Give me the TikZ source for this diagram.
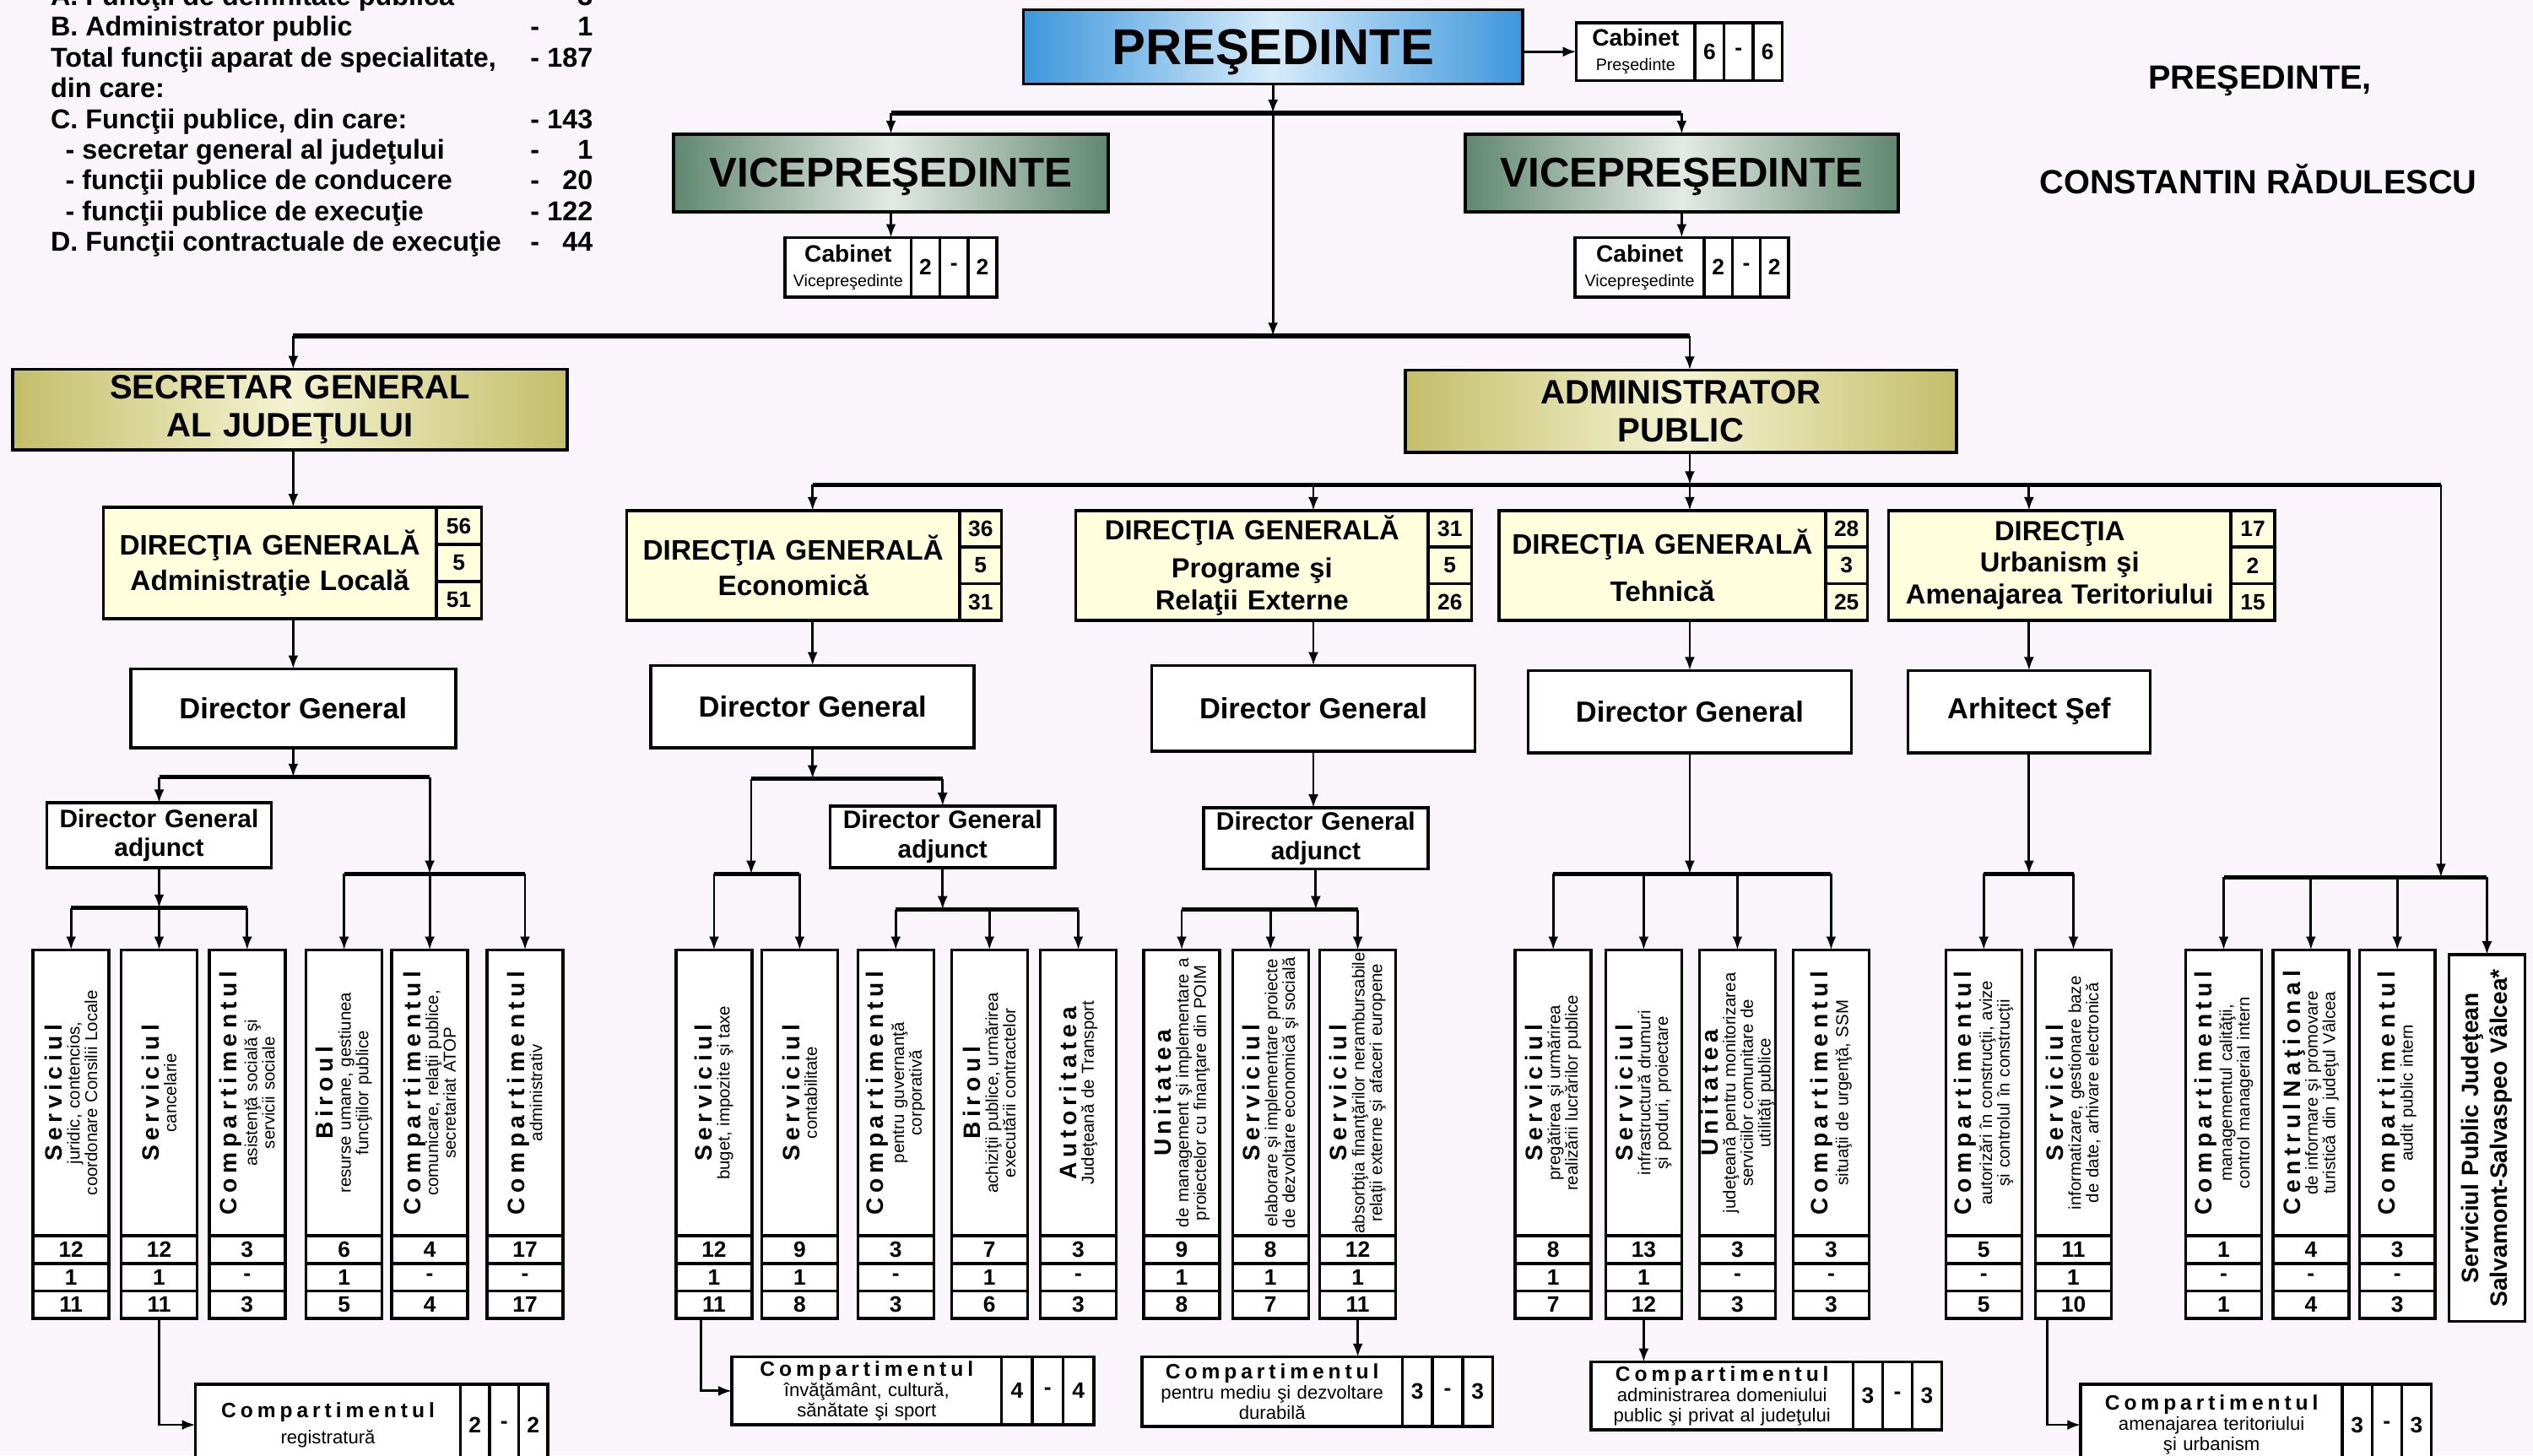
\documentclass[tikz,border=0pt]{standalone}
\usepackage{fontspec}
\usepackage{array}
\setmainfont{Liberation Sans}
\newfontfamily\spaced{Liberation Sans}[LetterSpace=20]
\usetikzlibrary{positioning,arrows.meta}
\def\upx{0.5446pt}
\definecolor{bgc}{RGB}{250,245,250}
\definecolor{pb}{RGB}{60,150,220}
\definecolor{pbl}{RGB}{215,235,250}
\definecolor{vg}{RGB}{95,135,112}
\definecolor{vgl}{RGB}{228,234,230}
\definecolor{kh}{RGB}{195,190,105}
\definecolor{khl}{RGB}{245,243,210}
\definecolor{dgy}{RGB}{255,255,222}
\newcommand\coltitle{\spaced\bfseries\fontsize{8}{8}\selectfont}
\newcommand\colsub{\normalfont\fontsize{5.8}{5.9}\selectfont}
\newcommand\boxtitle{\spaced\bfseries\fontsize{7}{8}\selectfont}
\begin{document}
\begin{tikzpicture}
[x=0.019139cm,y=-0.019139cm,
 bx/.style={draw,line width=1pt,inner sep=0pt,outer sep=0pt,fill=white},
 cel/.style={bx,font=\bfseries\fontsize{7.5}{7.5}\selectfont},
 ar/.style={-{Latex[length=4.5pt,width=3.4pt]},line width=0.8pt},
 bar/.style={line width=1.5pt},
 dir/.style={bx,fill=dgy,text width=110pt,align=center},
 dg/.style={bx,font=\bfseries\fontsize{9.8}{9.8}\selectfont},
 adj/.style={bx,text width=72pt,align=center,font=\bfseries\fontsize{8.5}{9.8}\selectfont},
 cab/.style={bx,text width=40pt,align=center,font=\fontsize{5.6}{8.2}\selectfont},
 sb/.style={bx,text width=85pt,align=center,font=\fontsize{6.3}{6.8}\selectfont}]
\path [use as bounding box] (0,0) rectangle (1568,901);
\fill [bgc] (0,0) rectangle (1568,901);

% header texts
\node [anchor=north west,inner sep=0pt,font=\bfseries\fontsize{9.2}{10.35}\selectfont] at (31,-10.3) (lst)
{\begin{tabular}{@{}p{161.7pt}@{}p{4pt}@{}>{\raggedleft\arraybackslash}p{17pt}@{}}
A. Funcţii de demnitate publică & - & 3\\
B. Administrator public & - & 1\\
Total funcţii aparat de specialitate, & - & 187\\
din care: & & \\
C. Funcţii publice, din care: & - & 143\\
\hspace*{5pt}- secretar general al judeţului & - & 1\\
\hspace*{5pt}- funcţii publice de conducere & - & 20\\
\hspace*{5pt}- funcţii publice de execuţie & - & 122\\
D. Funcţii contractuale de execuţie & - & 44
\end{tabular}};
\node [font=\bfseries\fontsize{11.3}{11.3}\selectfont] at (1399,50) (sgn) {PREŞEDINTE,};
\node [font=\bfseries\fontsize{11.3}{11.3}\selectfont] at (1398,111) (nme) {CONSTANTIN RĂDULESCU};

% conducere
\node [bx,left color=pb,right color=pb,middle color=pbl,minimum width=309*\upx,minimum height=46*\upx,text depth=0pt,font=\bfseries\fontsize{17}{17}\selectfont] at (788,29) (pres) {PREŞEDINTE};
\node [cab,minimum width=73*\upx,minimum height=36*\upx] at (1012.5,32) (cbp) {{\bfseries\fontsize{8}{8}\selectfont Cabinet}\\Preşedinte};
\foreach \ci/\cv in {1/6,2/-,3/6}
  \node [cel,minimum width=18*\upx,minimum height=36*\upx,anchor=north west] at ([xshift=(\ci-1)*18*\upx]cbp.north east) (cbp-\ci) {\cv};
\node [bx,left color=vg,right color=vg,middle color=vgl,minimum width=269*\upx,minimum height=48*\upx,text depth=0pt,font=\bfseries\fontsize{14}{14}\selectfont] at (551.5,107) (vp1) {VICEPREŞEDINTE};
\node [bx,left color=vg,right color=vg,middle color=vgl,minimum width=268*\upx,minimum height=48*\upx,text depth=0pt,font=\bfseries\fontsize{14}{14}\selectfont] at (1041,107) (vp2) {VICEPREŞEDINTE};
\node [cab,minimum width=78*\upx,minimum height=37*\upx] at (525,165.5) (cv1) {{\bfseries\fontsize{8}{8}\selectfont Cabinet}\\Vicepreşedinte};
\foreach \ci/\cv in {1/2,2/-,3/2}
  \node [cel,minimum width=17.67*\upx,minimum height=37*\upx,anchor=north west] at ([xshift=(\ci-1)*17.67*\upx]cv1.north east) (cv1-\ci) {\cv};
\node [cab,minimum width=80*\upx,minimum height=37*\upx] at (1015,165.5) (cv2) {{\bfseries\fontsize{8}{8}\selectfont Cabinet}\\Vicepreşedinte};
\foreach \ci/\cv in {1/2,2/-,3/2}
  \node [cel,minimum width=17.33*\upx,minimum height=37*\upx,anchor=north west] at ([xshift=(\ci-1)*17.33*\upx]cv2.north east) (cv2-\ci) {\cv};
\node [bx,left color=kh,right color=kh,middle color=khl,minimum width=343*\upx,minimum height=50*\upx,text width=180pt,align=center,font=\bfseries\fontsize{11.4}{13}\selectfont] at (179.5,253.5) (sg) {SECRETAR GENERAL\\AL JUDEŢULUI};
\node [bx,left color=kh,right color=kh,middle color=khl,minimum width=341*\upx,minimum height=51*\upx,text width=180pt,align=center,font=\bfseries\fontsize{11.4}{13}\selectfont] at (1040.5,254.5) (ap) {ADMINISTRATOR\\PUBLIC};

% directii
\node [dir,minimum width=206*\upx,minimum height=69*\upx,font=\bfseries\fontsize{9.5}{12}\selectfont] at (167,348.5) (dgal) {DIRECŢIA GENERALĂ\\Administraţie Locală};
\foreach \ci/\cv in {1/56,2/5,3/51}
  \node [cel,fill=dgy,minimum width=28*\upx,minimum height=23*\upx,anchor=north west] at ([yshift=-(\ci-1)*23*\upx]dgal.north east) (dgal-\ci) {\cv};
\node [dir,minimum width=206*\upx,minimum height=68*\upx,font=\bfseries\fontsize{9.5}{12}\selectfont] at (491,350) (dgec) {DIRECŢIA GENERALĂ\\Economică};
\foreach \ci/\cv in {1/36,2/5,3/31}
  \node [cel,fill=dgy,minimum width=26*\upx,minimum height=22.67*\upx,anchor=north west] at ([yshift=-(\ci-1)*22.67*\upx]dgec.north east) (dgec-\ci) {\cv};
\node [dir,minimum width=218*\upx,minimum height=68*\upx,font=\bfseries\fontsize{9.3}{10.9}\selectfont] at (775,350) (dgpr) {DIRECŢIA GENERALĂ\\[2pt]Programe şi\\Relaţii Externe};
\foreach \ci/\cv in {1/31,2/5,3/26}
  \node [cel,fill=dgy,minimum width=27*\upx,minimum height=22.67*\upx,anchor=north west] at ([yshift=-(\ci-1)*22.67*\upx]dgpr.north east) (dgpr-\ci) {\cv};
\node [dir,minimum width=202*\upx,minimum height=68*\upx,font=\bfseries\fontsize{9.5}{12}\selectfont] at (1029,350) (dgte) {DIRECŢIA GENERALĂ\\[3.8pt]Tehnică};
\foreach \ci/\cv in {1/28,2/3,3/25}
  \node [cel,fill=dgy,minimum width=26*\upx,minimum height=22.67*\upx,anchor=north west] at ([yshift=-(\ci-1)*22.67*\upx]dgte.north east) (dgte-\ci) {\cv};
\node [dir,minimum width=212*\upx,minimum height=68*\upx,font=\bfseries\fontsize{9.3}{10.6}\selectfont] at (1275,350) (dgur) {DIRECŢIA\\Urbanism şi\\Amenajarea Teritoriului};
\foreach \ci/\cv in {1/17,2/2,3/15}
  \node [cel,fill=dgy,minimum width=27*\upx,minimum height=22.67*\upx,anchor=north west] at ([yshift=-(\ci-1)*22.67*\upx]dgur.north east) (dgur-\ci) {\cv};

\node [dg,minimum width=201*\upx,minimum height=49*\upx] at (181.5,438.5) (dirgal) {Director General};
\node [dg,minimum width=200*\upx,minimum height=51*\upx] at (503,437.5) (dirgec) {Director General};
\node [dg,minimum width=200*\upx,minimum height=53*\upx] at (813,438.5) (dirgpr) {Director General};
\node [dg,minimum width=200*\upx,minimum height=51*\upx] at (1046,440.5) (dirgte) {Director General};
\node [dg,minimum width=150*\upx,minimum height=51*\upx] at (1256,440.5) (arh) {Arhitect Şef};
\node [adj,minimum width=139*\upx,minimum height=40*\upx] at (98.5,517) (dga1) {Director General\\adjunct};
\node [adj,minimum width=139*\upx,minimum height=38*\upx] at (583.5,518) (dga2) {Director General\\adjunct};
\node [adj,minimum width=139*\upx,minimum height=38*\upx] at (814.5,519) (dga3) {Director General\\adjunct};

% compartimente
\foreach \nm/\xc/\ttx/\stx/\ka/\kb/\kc in {
 a1/44/Serviciul/{juridic, contencios,\\coordonare Consilii Locale}/12/1/11,
 a2/98.5/Serviciul/{cancelarie}/12/1/11,
 a3/153/Compartimentul/{asistenţă socială şi\\servicii sociale}/3/-/3,
 a4/213/Biroul/{resurse umane, gestiunea\\funcţiilor publice}/6/1/5,
 a5/266/Compartimentul/{comunicare, relaţii publice,\\secretariat ATOP}/4/-/4,
 a6/325/Compartimentul/{administrativ}/17/-/17,
 e1/442/Serviciul/{buget, impozite şi taxe}/12/1/11,
 e2/495/Serviciul/{contabilitate}/9/1/8,
 e3/554.5/Compartimentul/{pentru guvernanţă\\corporativă}/3/-/3,
 e4/612.5/Biroul/{achiziţii publice, urmărirea\\executării contractelor}/7/1/6,
 e5/667.5/Autoritatea/{Judeţeană de Transport}/3/-/3,
 p1/731.5/Unitatea/{de management şi implementare a\\proiectelor cu finanţare din POIM}/9/1/8,
 p2/786.5/Serviciul/{elaborare şi implementare proiecte\\de dezvoltare economică şi socială}/8/1/7,
 p3/840.5/Serviciul/{absorbţia finanţărilor nerambursabile\\relaţii externe şi afaceri europene}/12/1/11,
 t1/961.5/Serviciul/{pregătirea şi urmărirea\\realizării lucrărilor publice}/8/1/7,
 t2/1017.5/Serviciul/{infrastructură drumuri\\şi poduri, proiectare}/13/1/12,
 t3/1075.5/Unitatea/{judeţeană pentru monitorizarea\\serviciilor comunitare de\\utilităţi publice}/3/-/3,
 t4/1133.5/Compartimentul/{situaţii de urgenţă, SSM}/3/-/3,
 u1/1228/Compartimentul/{autorizări în construcţii, avize\\şi controlul în construcţii}/5/-/5,
 u2/1283.5/Serviciul/{informatizare, gestionare baze\\de date, arhivare electronică}/11/1/10,
 r1/1376.5/Compartimentul/{managementul calităţii,\\control managerial intern}/1/-/1,
 r2/1430.5/Centrul Naţional/{de informare şi promovare\\turistică din judeţul Vâlcea}/4/-/4,
 r3/1484/Compartimentul/{audit public intern}/3/-/3}
{
 \node [bx,minimum width=47*\upx,minimum height=177*\upx] at (\xc,676.5) (c\nm) {};
 \node [rotate=90,text width=100pt,align=center,font=\colsub] at (c\nm) (c\nm-t) {{\coltitle \ttx}\\\stx};
 \node [cel,minimum width=47*\upx,minimum height=17*\upx,below=0pt of c\nm] (c\nm-1) {\ka};
 \node [cel,minimum width=47*\upx,minimum height=17*\upx,below=0pt of c\nm-1] (c\nm-2) {\kb};
 \node [cel,minimum width=47*\upx,minimum height=17*\upx,below=0pt of c\nm-2] (c\nm-3) {\kc};
}
\node [bx,minimum width=47*\upx,minimum height=227*\upx] at (1539.5,704.5) (cr4) {};
\node [rotate=90,text width=125pt,align=center,font=\bfseries\fontsize{8}{9.8}\selectfont] at (cr4) (cr4-t) {Serviciul Public Judeţean\\Salvamont-Salvaspeo Vâlcea*};

\node [sb,minimum width=164*\upx,minimum height=50*\upx] at (203,882) (reg) {{\boxtitle Compartimentul}\\[2pt]registratură};
\foreach \ci/\cv in {1/2,2/-,3/2}
  \node [cel,minimum width=18*\upx,minimum height=50*\upx,anchor=north west] at ([xshift=(\ci-1)*18*\upx]reg.north east) (reg-\ci) {\cv};
\node [sb,minimum width=167*\upx,minimum height=42*\upx] at (536.5,861) (inv) {{\boxtitle Compartimentul}\\învăţământ, cultură,\\sănătate şi sport};
\foreach \ci/\cv in {1/4,2/-,3/4}
  \node [cel,minimum width=19*\upx,minimum height=42*\upx,anchor=north west] at ([xshift=(\ci-1)*19*\upx]inv.north east) (inv-\ci) {\cv};
\node [sb,minimum width=161*\upx,minimum height=43*\upx] at (787.5,861.5) (med) {{\boxtitle Compartimentul}\\pentru mediu şi dezvoltare\\durabilă};
\foreach \ci/\cv in {1/3,2/-,3/3}
  \node [cel,minimum width=18.67*\upx,minimum height=43*\upx,anchor=north west] at ([xshift=(\ci-1)*18.67*\upx]med.north east) (med-\ci) {\cv};
\node [sb,minimum width=162*\upx,minimum height=42*\upx] at (1066,864) (dom) {{\boxtitle Compartimentul}\\administrarea domeniului\\public şi privat al judeţului};
\foreach \ci/\cv in {1/3,2/-,3/3}
  \node [cel,minimum width=18.33*\upx,minimum height=42*\upx,anchor=north west] at ([xshift=(\ci-1)*18.33*\upx]dom.north east) (dom-\ci) {\cv};
\node [sb,minimum width=162*\upx,minimum height=50*\upx] at (1369,882) (ame) {{\boxtitle Compartimentul}\\amenajarea teritoriului\\şi urbanism};
\foreach \ci/\cv in {1/3,2/-,3/3}
  \node [cel,minimum width=18.33*\upx,minimum height=50*\upx,anchor=north west] at ([xshift=(\ci-1)*18.33*\upx]ame.north east) (ame-\ci) {\cv};

% legaturi sus
\coordinate (vb) at (788,70);
\coordinate (hb) at (788,208);
\coordinate (ab) at (1046,300);
\coordinate (rb) at (1511,543);
\draw [ar] (pres.east |- cbp) -- (cbp.west);
\draw [ar] (pres) -- (vb);
\draw [ar] (vb) -- (hb);
\draw [bar] (vp1 |- vb) -- (vp2 |- vb);
\draw [ar] (vp1 |- vb) -- (vp1);
\draw [ar] (vp2 |- vb) -- (vp2);
\draw [ar] (vp1) -- (vp1 |- cv1.north);
\draw [ar] (vp2) -- (vp2 |- cv2.north);
\draw [bar] (dirgal |- hb) -- (dirgte |- hb);
\draw [ar] (dirgal |- hb) -- (dirgal |- sg.north);
\draw [ar] (dirgte |- hb) -- (dirgte |- ap.north);
\draw [ar] (dirgal |- sg.south) -- (dirgal |- dgal.north);
\draw [ar] (dirgal |- dgal.south) -- (dirgal);
\draw [ar] (dirgte |- ap.south) -- (dirgte |- ab);
\draw [bar] (dirgec |- ab) -- (rb |- ab);
\foreach \dn/\gn in {dirgec/dgec,dirgpr/dgpr,dirgte/dgte,arh/dgur}
{
 \draw [ar] (\dn |- ab) -- (\dn |- \gn.north);
 \draw [ar] (\dn |- \gn.south) -- (\dn);
}
\draw [ar] (rb |- ab) -- (rb);

% legaturi jos
\coordinate (al) at (181.5,481);
\coordinate (all) at (98.5,562);
\coordinate (alr) at (266,541);
\draw [ar] (dirgal) -- (al);
\draw [bar] (dga1 |- al) -- (alr |- al);
\draw [ar] (dga1 |- al) -- (dga1);
\draw [ar] (alr |- al) -- (alr);
\draw [ar] (dga1) -- (all);
\draw [bar] (ca1 |- all) -- (ca3 |- all);
\draw [bar] (ca4 |- alr) -- (ca6 |- alr);
\foreach \k in {a1,a2,a3} \draw [ar] (c\k |- all) -- (c\k);
\foreach \k in {a4,a5,a6} \draw [ar] (c\k |- alr) -- (c\k);

\coordinate (ec) at (503,482);
\coordinate (ecl) at (465,541);
\coordinate (ecr) at (583.5,563);
\draw [ar] (dirgec) -- (ec);
\draw [bar] (ecl |- ec) -- (dga2 |- ec);
\draw [ar] (ecl |- ec) -- (ecl);
\draw [ar] (dga2 |- ec) -- (dga2);
\draw [ar] (dga2) -- (ecr);
\draw [bar] (ce1 |- ecl) -- (ce2 |- ecl);
\draw [bar] (ce3 |- ecr) -- (ce5 |- ecr);
\foreach \k in {e1,e2} \draw [ar] (c\k |- ecl) -- (c\k);
\foreach \k in {e3,e4,e5} \draw [ar] (c\k |- ecr) -- (c\k);

\coordinate (pr) at (814.5,563);
\draw [ar] (dirgpr) -- (dirgpr |- dga3.north);
\draw [ar] (dga3) -- (pr);
\draw [bar] (cp1 |- pr) -- (cp3 |- pr);
\foreach \k in {p1,p2,p3} \draw [ar] (c\k |- pr) -- (c\k);

\coordinate (te) at (1046,541);
\draw [ar] (dirgte) -- (te);
\draw [bar] (ct1 |- te) -- (ct4 |- te);
\foreach \k in {t1,t2,t3,t4} \draw [ar] (c\k |- te) -- (c\k);

\coordinate (ur) at (1256,541);
\draw [ar] (arh) -- (ur);
\draw [bar] (cu1 |- ur) -- (cu2 |- ur);
\foreach \k in {u1,u2} \draw [ar] (c\k |- ur) -- (c\k);

\draw [bar] (cr1 |- rb) -- (cr4 |- rb);
\foreach \k in {r1,r2,r3,r4} \draw [ar] (c\k |- rb) -- (c\k);

\draw [ar] (ca2-3.south) |- (reg);
\draw [ar] ([xshift=-8*\upx]ce1-3.south) |- (inv);
\draw [ar] (cp3-3) -- (cp3-3 |- med.north);
\draw [ar] (ct2-3) -- (ct2-3 |- dom.north);
\draw [ar] ([xshift=-16*\upx]cu2-3.south) |- (ame);
\end{tikzpicture}
\end{document}
